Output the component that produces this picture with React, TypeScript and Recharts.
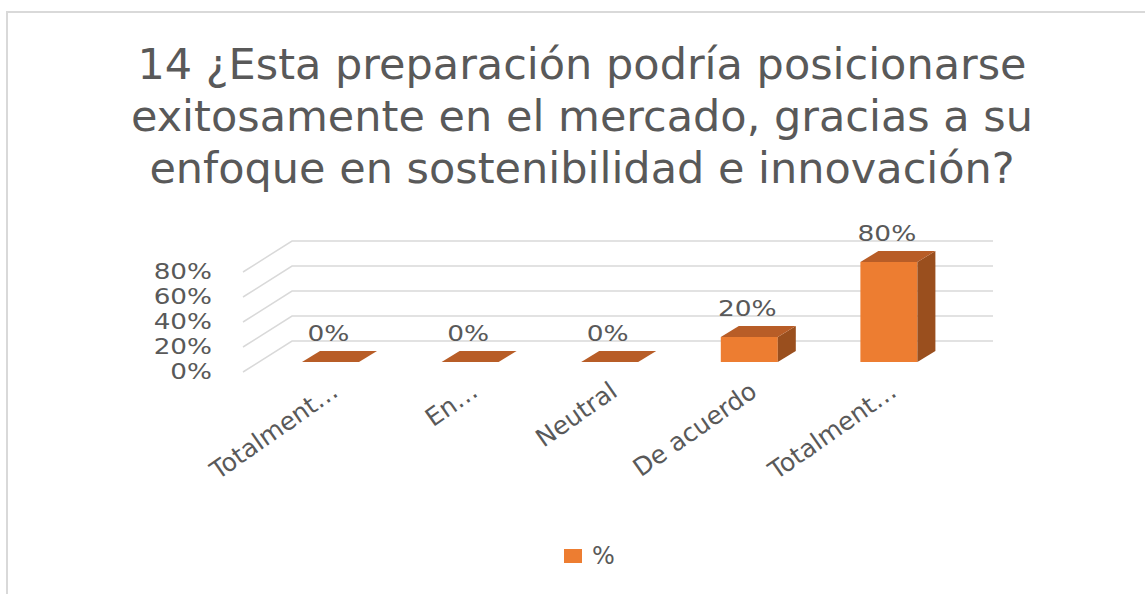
import { BarChart, Bar, XAxis, YAxis, CartesianGrid, LabelList, Legend } from "recharts";

const categories = ["Totalmente en desacuerdo", "En desacuerdo", "Neutral", "De acuerdo", "Totalmente de acuerdo"];
const tickLabels = ["Totalment…", "En…", "Neutral", "De acuerdo", "Totalment…"];
const percentValues = [0, 0, 0, 20, 80];
const yTicks = [0, 20, 40, 60, 80];
const seriesName = "%";
const titleLines = [
  "14 ¿Esta preparación podría posicionarse",
  "exitosamente en el mercado, gracias a su",
  "enfoque en sostenibilidad e innovación?",
];

const data = categories.map((name, i) => ({ name, label: tickLabels[i], value: percentValues[i] }));

const FRONT = "#ed7d31";
const TOP = "#b85d27";
const SIDE = "#9a4f1e";
const GRID = "#d9d9d9";
const TEXT = "#595959";
const FONT = "'DejaVu Sans', sans-serif";
const DX = 18;
const DY = -11;

function Bar3D(props: any) {
  const { x, y, width, height } = props;
  const bottom = y + height;
  return (
    <g>
      {height > 0 && <rect x={x} y={y} width={width} height={height} fill={FRONT} />}
      {height > 0 && (
        <polygon
          points={`${x + width},${y} ${x + width + DX},${y + DY} ${x + width + DX},${bottom + DY} ${x + width},${bottom}`}
          fill={SIDE}
        />
      )}
      <polygon points={`${x},${y} ${x + DX},${y + DY} ${x + width + DX},${y + DY} ${x + width},${y}`} fill={TOP} />
    </g>
  );
}

// wide, slightly squat text like the stretched original
function WideText({ x, y, size, sx, anchor, children }: any) {
  return (
    <text
      transform={`translate(${x},${y}) scale(${sx},1)`}
      textAnchor={anchor}
      fontFamily={FONT}
      fontSize={size}
      fill={TEXT}
    >
      {children}
    </text>
  );
}

export default function App() {
  return (
    <div style={{ position: "fixed", left: 0, top: 0, width: 1145, height: 594, overflow: "hidden", background: "#fff" }}>
      <div style={{ position: "absolute", left: 6, top: 11, width: 1139, height: 2, background: GRID }} />
      <div style={{ position: "absolute", left: 6, top: 11, width: 2, height: 583, background: GRID }} />
      <div
        style={{
          position: "absolute",
          left: 82,
          top: 38,
          width: 1000,
          textAlign: "center",
          fontFamily: FONT,
          fontSize: 43,
          lineHeight: "52px",
          color: TEXT,
          whiteSpace: "pre",
        }}
      >
        {titleLines.join("\n")}
      </div>
      <div style={{ position: "absolute", left: 0, top: 0 }}>
        <BarChart width={1145} height={594} data={data} margin={{ top: 262, right: 186, bottom: 202, left: 201 }}>
          <CartesianGrid
            vertical={false}
            horizontal={(p: any) => (
              <polyline
                key={`grid-${p.index}`}
                points={`${p.x1 - 18},${p.y1 + 10} ${p.x1 + 31},${p.y1 - 21} ${p.x2 + 34},${p.y1 - 21}`}
                fill="none"
                stroke={GRID}
                strokeWidth={1.5}
              />
            )}
          />
          <XAxis
            dataKey="name"
            axisLine={false}
            tickLine={false}
            height={30}
            interval={0}
            tick={(p: any) => (
              <text
                x={p.x + 9}
                y={p.y + 25}
                textAnchor="end"
                transform={`rotate(-35 ${p.x + 9} ${p.y + 25})`}
                fontFamily={FONT}
                fontSize={25}
                fill={TEXT}
              >
                {tickLabels[p.index]}
              </text>
            )}
          />
          <YAxis
            type="number"
            domain={[0, 80]}
            ticks={yTicks}
            axisLine={false}
            tickLine={false}
            width={60}
            tick={(p: any) => (
              <WideText x={p.x - 41} y={p.y + 17} size={21} sx={1.25} anchor="end">
                {`${p.payload.value}%`}
              </WideText>
            )}
          />
          <Legend
            layout="horizontal"
            verticalAlign="middle"
            align="center"
            wrapperStyle={{ top: 542, left: 564, width: "auto" }}
            content={(p: any) => (
              <div style={{ display: "flex", alignItems: "center", fontFamily: FONT, fontSize: 24, color: TEXT }}>
                {(p.payload || []).map((item: any) => (
                  <span key={item.value} style={{ display: "flex", alignItems: "center" }}>
                    <span style={{ display: "inline-block", width: 18, height: 14, background: FRONT, marginRight: 10 }} />
                    {item.value}
                  </span>
                ))}
              </div>
            )}
          />
          <Bar dataKey="value" name={seriesName} fill={FRONT} barSize={57} shape={Bar3D} isAnimationActive={false}>
            <LabelList
              dataKey="value"
              content={(p: any) => (
                <WideText x={p.x + p.width / 2 - 2} y={p.y - 21} size={22} sx={1.2} anchor="middle">
                  {`${p.value}%`}
                </WideText>
              )}
            />
          </Bar>
        </BarChart>
      </div>
    </div>
  );
}
